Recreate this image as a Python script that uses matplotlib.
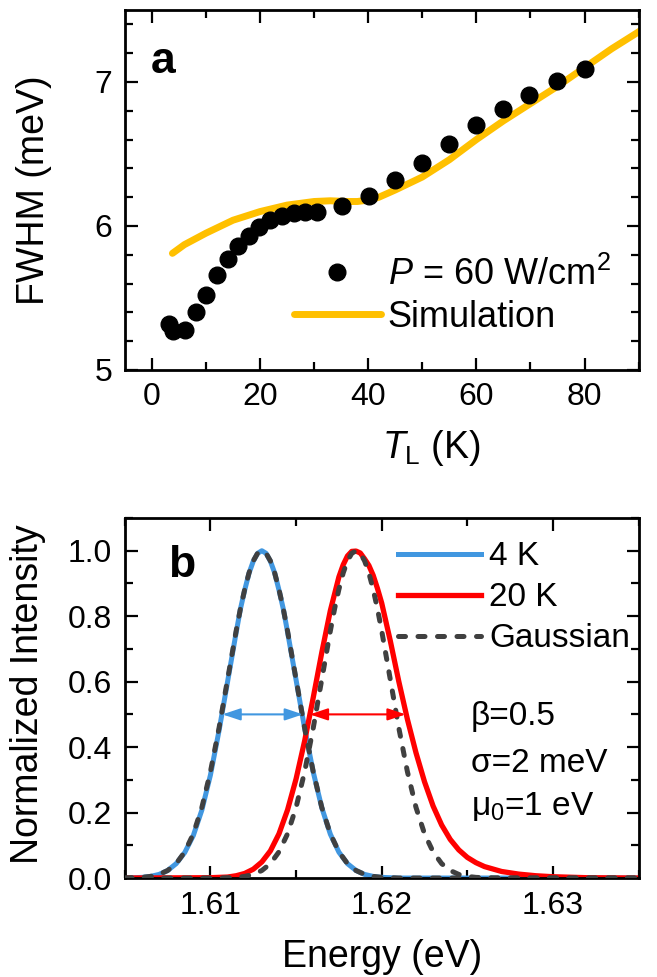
import matplotlib
matplotlib.use('Agg')
import matplotlib.pyplot as plt
from matplotlib.ticker import MultipleLocator

plt.rcParams['font.family'] = ['Liberation Sans', 'DejaVu Sans']
plt.rcParams['mathtext.fontset'] = 'custom'
plt.rcParams['mathtext.rm'] = 'Liberation Sans'
plt.rcParams['mathtext.it'] = 'Liberation Sans:italic'
plt.rcParams['mathtext.bf'] = 'Liberation Sans:bold'

# panel a: measured FWHM vs lattice temperature
temp_k = [3.2, 3.9, 6.2, 8.1, 10.1, 12.1, 14.1, 16.0, 17.9, 19.8, 21.8, 24.0,
          26.2, 28.4, 30.5, 35.1, 40.1, 44.9, 50.0, 54.9, 60.0, 65.0, 69.8, 74.9, 80.0]
fwhm_mev = [5.32, 5.27, 5.28, 5.40, 5.52, 5.66, 5.77, 5.86, 5.93, 5.99, 6.04, 6.07,
            6.09, 6.10, 6.10, 6.14, 6.21, 6.32, 6.44, 6.57, 6.70, 6.81, 6.91, 7.01, 7.09]

# panel a: simulation curve
sim_t = [3.8, 6, 10, 15, 20, 25, 30, 33, 36, 38, 40, 42, 45, 50, 55, 60, 65, 70,
         75, 80, 85, 90.5]
sim_fwhm = [5.81, 5.87, 5.95, 6.04, 6.10, 6.145, 6.17, 6.175, 6.17, 6.17, 6.18, 6.20,
            6.25, 6.34, 6.46, 6.60, 6.73, 6.85, 6.97, 7.10, 7.23, 7.36]

# panel b: spectrum at 4 K
energy_4k = [1.6050, 1.6055, 1.6060, 1.6065, 1.6070, 1.6075, 1.6080, 1.6085, 1.6090,
             1.6095, 1.6100, 1.6105, 1.6110, 1.6115, 1.61175, 1.6120, 1.61225, 1.6125,
             1.61275, 1.6130, 1.61325, 1.6135, 1.61375, 1.6140, 1.61425, 1.6145,
             1.6150, 1.6155, 1.6160, 1.6165, 1.6170, 1.6175, 1.6180, 1.6185, 1.6190,
             1.6195, 1.6200, 1.6210, 1.6350]
int_4k = [0.000, 0.001, 0.002, 0.005, 0.011, 0.023, 0.044, 0.078, 0.130,
          0.208, 0.315, 0.450, 0.600, 0.750, 0.822, 0.880, 0.931, 0.968,
          0.992, 1.000, 0.992, 0.968, 0.932, 0.880, 0.823, 0.752,
          0.605, 0.457, 0.324, 0.215, 0.134, 0.079, 0.044, 0.023, 0.011,
          0.005, 0.002, 0.000, 0.000]

# panel b: spectrum at 20 K
energy_20k = [1.6050, 1.6100, 1.6110, 1.6115, 1.6120, 1.6125, 1.6130, 1.6135, 1.6140,
              1.6145, 1.6150, 1.6155, 1.6160, 1.6165, 1.6170, 1.6175, 1.61775, 1.6180,
              1.61825, 1.6185, 1.61875, 1.6190, 1.61925, 1.6195, 1.61975, 1.6200,
              1.6205, 1.6210, 1.6215, 1.6220, 1.6225, 1.6230, 1.6235, 1.6240, 1.6245,
              1.6250, 1.6255, 1.6260, 1.6270, 1.6280, 1.6290, 1.6300, 1.6320, 1.6350]
int_20k = [0.000, 0.001, 0.003, 0.007, 0.014, 0.027, 0.049, 0.083, 0.135,
           0.208, 0.303, 0.419, 0.551, 0.689, 0.817, 0.920, 0.957, 0.984,
           0.998, 0.999, 0.993, 0.975, 0.955, 0.925, 0.885, 0.840,
           0.725, 0.600, 0.485, 0.383, 0.294, 0.220, 0.162, 0.118, 0.086,
           0.063, 0.047, 0.035, 0.020, 0.012, 0.007, 0.004, 0.001, 0.000]

# panel b: gaussian fits
gauss_e_4k = [1.6050, 1.6060, 1.6065, 1.6070, 1.6075, 1.6080, 1.6085, 1.6090, 1.6095,
              1.6100, 1.6105, 1.6110, 1.6115, 1.61175, 1.6120, 1.61225, 1.6125, 1.61275,
              1.6130, 1.61325, 1.6135, 1.61375, 1.6140, 1.61425, 1.6145, 1.6150,
              1.6155, 1.6160, 1.6165, 1.6170, 1.6175, 1.6180, 1.6185, 1.6190, 1.6195,
              1.6200, 1.6210, 1.6350]
gauss_i_4k = [0.000, 0.002, 0.005, 0.011, 0.023, 0.044, 0.080, 0.135, 0.216,
              0.325, 0.458, 0.607, 0.755, 0.823, 0.882, 0.932, 0.969, 0.992,
              1.000, 0.992, 0.969, 0.932, 0.882, 0.823, 0.755, 0.607,
              0.458, 0.325, 0.216, 0.135, 0.080, 0.044, 0.023, 0.011, 0.005,
              0.002, 0.000, 0.000]
gauss_e_20k = [1.6050, 1.6105, 1.6115, 1.6120, 1.6125, 1.6130, 1.6135, 1.6140, 1.6145,
               1.6150, 1.6155, 1.6160, 1.6165, 1.6170, 1.61725, 1.6175, 1.61775, 1.6180,
               1.61825, 1.6185, 1.61875, 1.6190, 1.61925, 1.6195, 1.61975, 1.6200,
               1.6205, 1.6210, 1.6215, 1.6220, 1.6225, 1.6230, 1.6235, 1.6240, 1.6245,
               1.6250, 1.6255, 1.6265, 1.6350]
gauss_i_20k = [0.000, 0.000, 0.002, 0.005, 0.011, 0.023, 0.044, 0.080, 0.135,
               0.216, 0.325, 0.458, 0.607, 0.755, 0.823, 0.882, 0.932, 0.969,
               0.992, 1.000, 0.992, 0.969, 0.932, 0.882, 0.823, 0.755,
               0.607, 0.458, 0.325, 0.216, 0.135, 0.080, 0.044, 0.023, 0.011,
               0.005, 0.002, 0.000, 0.000]

# half-maximum arrows
fwhm_4k = [1.6107, 1.6154]
fwhm_20k = [1.6158, 1.6214]

c_sim = '#FFC000'
c_4k = '#4197E0'
c_20k = '#FF0000'
c_gauss = '#404040'

fig = plt.figure(figsize=(6.57, 9.77), dpi=100)
ax1 = fig.add_axes([0.190, 0.6213, 0.782, 0.3685])
ax2 = fig.add_axes([0.190, 0.1013, 0.782, 0.3685])


def style_axes(ax):
    for sp in ax.spines.values():
        sp.set_linewidth(2.0)
    ax.tick_params(which='both', direction='in', top=True, right=True, width=1.6,
                   labelsize=23, pad=9)
    ax.tick_params(which='major', length=9)
    ax.tick_params(which='minor', length=6)


# ---- panel a
ax1.plot(temp_k, fwhm_mev, 'o', color='black', ms=12, label='$P$ = 60 W/cm$^2$', zorder=3)
ax1.plot(sim_t, sim_fwhm, color=c_sim, lw=5, solid_capstyle='round', label='Simulation', zorder=2)
ax1.set_xlim(-5, 90)
ax1.set_ylim(5, 7.5)
ax1.xaxis.set_major_locator(MultipleLocator(20))
ax1.xaxis.set_minor_locator(MultipleLocator(10))
ax1.yaxis.set_major_locator(MultipleLocator(1))
ax1.yaxis.set_minor_locator(MultipleLocator(0.2))
style_axes(ax1)
ax1.set_xlabel('$T_{\\mathrm{L}}$ (K)', fontsize=27)
ax1.set_ylabel('FWHM (meV)', fontsize=27)
ax1.xaxis.set_label_coords(0.597, -0.16)
ax1.yaxis.set_label_coords(-0.141, 0.5)
ax1.text(0.05, 0.825, 'a', transform=ax1.transAxes, fontsize=32, fontweight='bold')
ax1.legend(loc='upper left', bbox_to_anchor=(0.329, 0.315), frameon=False, fontsize=26,
           handlelength=2.4, handletextpad=0.2, borderpad=0, borderaxespad=0,
           labelspacing=0.2)

# ---- panel b
ax2.plot(energy_4k, int_4k, color=c_4k, lw=3.6, label='4 K', zorder=2)
ax2.plot(energy_20k, int_20k, color=c_20k, lw=3.8, label='20 K', zorder=2)
ax2.plot(gauss_e_4k, gauss_i_4k, color=c_gauss, lw=3.6, dashes=(1.4, 2.5),
         dash_capstyle='round', label='Gaussian', zorder=3)
ax2.plot(gauss_e_20k, gauss_i_20k, color=c_gauss, lw=3.6, dashes=(1.4, 2.5),
         dash_capstyle='round', zorder=3)

for (e1, e2), col in [(fwhm_4k, c_4k), (fwhm_20k, c_20k)]:
    ax2.annotate('', xy=(e2, 0.5), xytext=(e1, 0.5),
                 arrowprops=dict(arrowstyle='<|-|>,head_length=0.6,head_width=0.2',
                                 color=col, lw=1.5, mutation_scale=18,
                                 shrinkA=0, shrinkB=0), zorder=4)

ax2.set_xlim(1.605, 1.635)
ax2.set_ylim(0, 1.1)
ax2.xaxis.set_major_locator(MultipleLocator(0.01))
ax2.xaxis.set_minor_locator(MultipleLocator(0.005))
ax2.yaxis.set_major_locator(MultipleLocator(0.2))
ax2.yaxis.set_minor_locator(MultipleLocator(0.1))
ax2.xaxis.set_major_formatter(plt.FormatStrFormatter('%.2f'))
ax2.yaxis.set_major_formatter(plt.FormatStrFormatter('%.1f'))
style_axes(ax2)
ax2.set_xlabel('Energy (eV)', fontsize=27)
ax2.set_ylabel('Normalized Intensity', fontsize=27)
ax2.xaxis.set_label_coords(0.5, -0.17)
ax2.yaxis.set_label_coords(-0.153, 0.51)
ax2.text(0.084, 0.836, 'b', transform=ax2.transAxes, fontsize=32, fontweight='bold')
ax2.legend(loc='upper left', bbox_to_anchor=(0.531, 0.935), frameon=False, fontsize=24,
           handlelength=2.5, handletextpad=0.25, borderpad=0, borderaxespad=0,
           labelspacing=0.3)

ax2.text(0.673, 0.425, '\u03b2=0.5', transform=ax2.transAxes, fontsize=24, va='baseline')
ax2.text(0.673, 0.294, '\u03c3=2 meV', transform=ax2.transAxes, fontsize=24, va='baseline')
ax2.text(0.673, 0.175, '\u03bc$_0$=1 eV', transform=ax2.transAxes, fontsize=24, va='baseline')

fig.savefig('out.png', dpi=100)
